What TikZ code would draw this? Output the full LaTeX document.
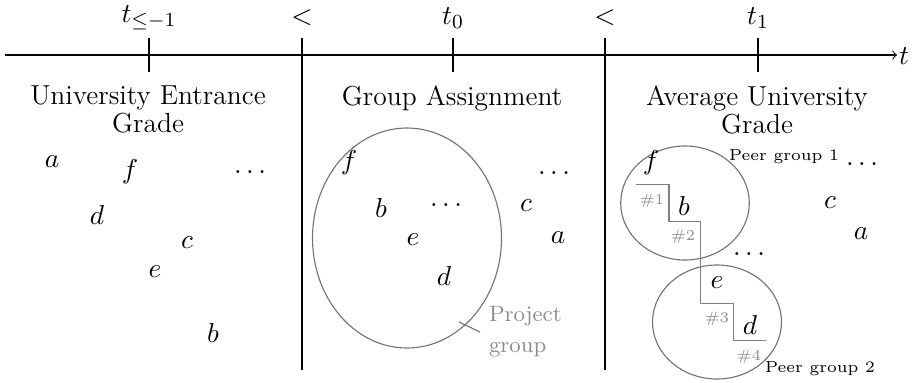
\documentclass[tikz,border=0pt,11pt]{standalone}
\begin{document}
\begin{tikzpicture}[x=0.4pt,y=-0.4pt,
  every node/.style={inner sep=0pt,outer sep=0pt,font=\fontsize{11}{13}\selectfont},
  rule/.style={line width=0.42pt},
  grp/.style={draw=black!55,line width=0.45pt},
  gtxt/.style={text=black!45,font=\fontsize{6.5}{8}\selectfont},
  ptxt/.style={font=\fontsize{6.4}{8}\selectfont},
  ltxt/.style={text=black!45,font=\fontsize{8.9}{12.6}\selectfont,align=left},
  head/.style={align=center,anchor=north,font=\fontsize{11}{11.2}\selectfont}]
\useasboundingbox (0,0) rectangle (912,382);
% axis
\coordinate (a0) at (5,55);
\coordinate (a1) at (897,55);
\draw[rule,->] (a0) -- (a1);
\node[anchor=west] (tl) at (899,56) {$t$};
% ticks
\coordinate (k1a) at (149,38); \coordinate (k1b) at (149,72);
\coordinate (k2a) at (453,38); \coordinate (k2b) at (453,72);
\coordinate (k3a) at (758,38); \coordinate (k3b) at (758,72);
\draw[rule] (k1a) -- (k1b);
\draw[rule] (k2a) -- (k2b);
\draw[rule] (k3a) -- (k3b);
% dividers
\coordinate (d1a) at (302,38); \coordinate (d1b) at (302,370);
\coordinate (d2a) at (605,38); \coordinate (d2b) at (605,370);
\draw[rule] (d1a) -- (d1b);
\draw[rule] (d2a) -- (d2b);
% time labels
\node (tm1) at (149,18) {$t_{\leq -1}$};
\node (lt1) at (302,18) {$<$};
\node (t0) at (453,18) {$t_0$};
\node (lt2) at (605,18) {$<$};
\node (t1) at (758,18) {$t_1$};
% headings
\node[head] (h1) at (148,86) {University Entrance\\Grade};
\node[head] (h2) at (452,86) {Group Assignment};
\node[head] (h3) at (757,86) {Average University\\Grade};
% left panel
\node (la) at (52,162) {$a$};
\node (lf) at (130,172) {$f$};
\node (ldots) at (250,172) {$\dots$};
\node (ld) at (97,215) {$d$};
\node (lc) at (187,243) {$c$};
\node (le) at (155,272) {$e$};
\node (lb) at (213,333) {$b$};
% middle panel
\draw[grp] (407,238) ellipse [x radius=94.5, y radius=110];
\node (mf) at (349,163) {$f$};
\node (mb) at (381,208) {$b$};
\node (mdots1) at (446,205) {$\dots$};
\node (me) at (413,240) {$e$};
\node (md) at (444,276) {$d$};
\node (mc) at (526,206) {$c$};
\node (ma) at (558,238) {$a$};
\node (mdots2) at (554,173) {$\dots$};
\node[ltxt,anchor=north west] (proj) at (489,306) {Project\\group};
\coordinate (pl0) at (459,322);
\coordinate (pl1) at (480,332);
\draw[draw=black!55,line width=0.45pt] (pl0) -- (pl1);
% right panel
\draw[grp] (685,203) ellipse [x radius=64.3, y radius=57];
\draw[grp] (717,322) ellipse [x radius=64.5, y radius=57];
\coordinate (s0) at (636,184.3);
\coordinate (s1) at (669,184.3);
\coordinate (s2) at (669,221.7);
\coordinate (s3) at (700.7,221.7);
\coordinate (s4) at (700.7,303.3);
\coordinate (s5) at (733.3,303.3);
\coordinate (s6) at (733.3,340.7);
\coordinate (s7) at (765.7,340.7);
\draw[draw=black!50,line width=0.55pt] (s0) -- (s1) -- (s2) -- (s3) -- (s4) -- (s5) -- (s6) -- (s7);
\node (rf) at (651,163) {$f$};
\node[gtxt] (n1) at (652,201) {$\#1$};
\node (rb) at (684,206) {$b$};
\node[gtxt] (n2) at (683,237) {$\#2$};
\node (rdots1) at (749,254) {$\dots$};
\node (re) at (717,283) {$e$};
\node[gtxt] (n3) at (717,319) {$\#3$};
\node (rd) at (750,325) {$d$};
\node[gtxt] (n4) at (749,357) {$\#4$};
\node[ptxt] (pg1) at (784,157) {Peer group 1};
\node[ptxt] (pg2) at (820,369) {Peer group 2};
\node (rdots2) at (862,164) {$\dots$};
\node (rc) at (830,203) {$c$};
\node (ra) at (861,234) {$a$};
\end{tikzpicture}
\end{document}
